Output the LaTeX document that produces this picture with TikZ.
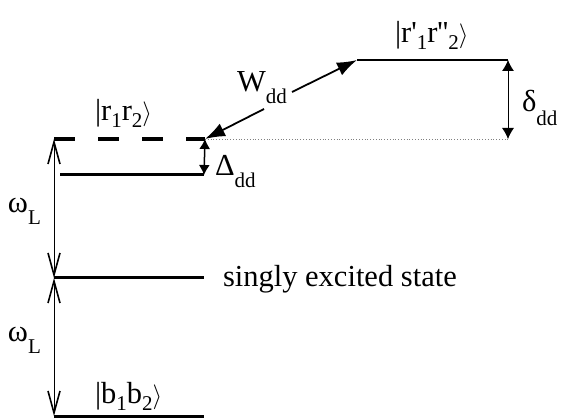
\documentclass[tikz,border=0pt]{standalone}
\usepackage{fontspec}
\setmainfont{Liberation Serif}
\newfontfamily\plainserif{Liberation Serif}[Ligatures=NoCommon]
\usetikzlibrary{arrows.meta}
\newcommand\lsub[2][7pt]{\raisebox{-#1}{\fontsize{21}{21}\selectfont #2}}
\newcommand\rket{\ensuremath{\rangle}}
\newcommand\sq{{\plainserif\char"27}}
\begin{document}
\begin{tikzpicture}[x=1pt,y=-1pt,
  font=\rmfamily\fontsize{30.5}{32}\selectfont,
  level/.style={line width=3pt},
  omega/.style={line width=0.8pt,
    {Straight Barb[length=22pt,width=12pt,line width=1.6pt]}-{Straight Barb[length=22pt,width=12pt,line width=1.6pt]}},
  small/.style={line width=1.5pt,{Latex[length=10pt,width=11pt]}-{Latex[length=10pt,width=11pt]}},
  delta/.style={line width=0.8pt,{Latex[length=11pt,width=12pt]}-{Latex[length=11pt,width=12pt]}},
  wdd/.style={line width=1.8pt,-{Latex[length=20pt,width=14pt]}},
  lbl/.style={anchor=base west,inner sep=0pt,outer sep=0pt}]
\useasboundingbox (0,0) rectangle (562,419);
% level end points
\coordinate (dl) at (54,139);  \coordinate (dr) at (205,139);
\coordinate (al) at (60,175);  \coordinate (ar) at (204,175);
\coordinate (sl) at (54,278);  \coordinate (sr) at (204,278);
\coordinate (bl) at (54,416);  \coordinate (br) at (204,416);
\coordinate (tl) at (357,60);  \coordinate (tr) at (508,60);
\coordinate (dt) at (508,139);
\coordinate (w1) at (292,92);  \coordinate (w2) at (264,109);
% levels
\draw[line width=4pt,dash pattern=on 21pt off 23pt] (dl) -- (dr);
\draw[level] (al) -- (ar);
\draw[level] (sl) -- (sr);
\draw[level] (bl) -- (br);
\draw[line width=2.5pt] (tl) -- (tr);
\draw[gray,line width=0.8pt,dotted] (dr) -- (dt);
% arrows
\draw[omega] (dl) -- (sl);
\draw[omega] (sl) -- (bl);
\draw[small] (dr) -- (ar);
\draw[delta] (tr) -- (dt);
\draw[wdd] (w1) -- (tl);
\draw[wdd] (w2) -- (dr);
% labels
\node[lbl] (om1) at (8,213) {ω\lsub[12pt]{L}};
\node[lbl] (om2) at (8,342) {ω\lsub[12pt]{L}};
\node[lbl] (Dd) at (215,176) {Δ\lsub[12pt]{dd}};
\node[lbl] (Wd) at (237,92) {W\lsub[12pt]{dd}};
\node[lbl] (dd) at (522,112) {δ\lsub[14pt]{dd}};
\node[lbl] (r12) at (95,121) {|r\lsub{1}r\lsub{2}\rket};
\node[lbl] (rpp) at (395,43) {|r\sq\lsub{1}r\sq\sq\lsub{2}\rket};
\node[lbl] (b12) at (95,403) {|b\lsub{1}b\lsub{2}\rket};
\node[lbl] (se) at (223,287) {singly excited state};
\end{tikzpicture}
\end{document}
